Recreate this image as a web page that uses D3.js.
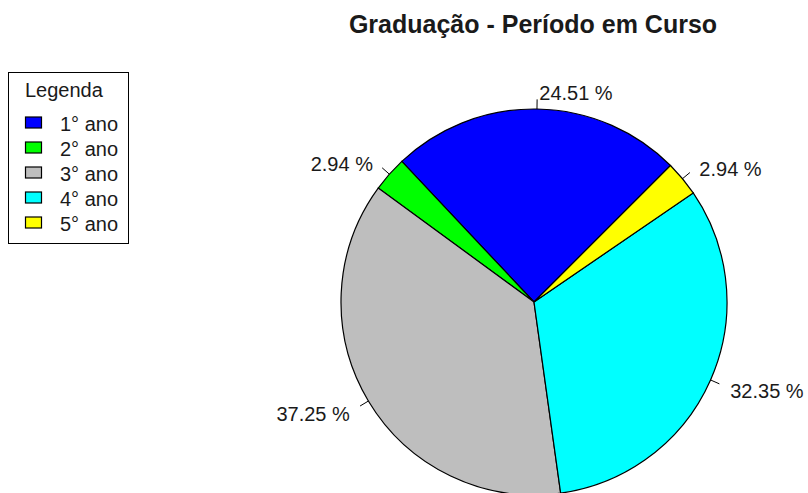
<!DOCTYPE html>
<html>
<head>
<meta charset="utf-8">
<script src="https://cdn.jsdelivr.net/npm/d3@7"></script>
<style>
  body { margin: 0; background: #fff; }
  text { font-family: "Liberation Sans", Arial, sans-serif; fill: #1a1a1a; }
</style>
</head>
<body>
<div id="chart"></div>
<script>
// chart data
var categories = ["1° ano", "2° ano", "3° ano", "4° ano", "5° ano"]
var counts = [25, 3, 38, 33, 3]
var colors = ["#0000FF", "#00FF00", "#BEBEBE", "#00FFFF", "#FFFF00"]
var title = "Graduação - Período em Curso"
var legendTitle = "Legenda"

var width = 808, height = 493
var cx = 534, cy = 302, r = 193
var total = d3.sum(counts)

var svg = d3.select("#chart").append("svg").attr("width", width).attr("height", height)

svg.append("text").attr("x", 533).attr("y", 33)
    .attr("text-anchor", "middle").style("font-size", "25px").style("font-weight", "bold")
    .text(title)

// R pie: counter-clockwise from init.angle = 45 deg
var pie = d3.pie().sort(null).value(function(d){ return d.v })
    .startAngle(Math.PI / 4).endAngle(Math.PI / 4 - 2 * Math.PI)
var arcs = pie(categories.map(function(c, i){ return {c: c, v: counts[i], col: colors[i]} }))
var arc = d3.arc().innerRadius(0).outerRadius(r)

var g = svg.append("g").attr("transform", `translate(${cx},${cy})`)
g.selectAll("path.slice").data(arcs).enter().append("path")
    .attr("class", "slice")
    .attr("d", arc)
    .attr("fill", function(d){ return d.data.col })
    .attr("stroke", "#000").attr("stroke-width", 1.2)

arcs.forEach(function(d){
    var a = (d.startAngle + d.endAngle) / 2
    var sx = Math.sin(a), sy = -Math.cos(a)
    g.append("line")
        .attr("x1", r * sx).attr("y1", r * sy)
        .attr("x2", 1.05 * r * sx).attr("y2", 1.05 * r * sy)
        .attr("stroke", "#000").attr("stroke-width", 1)
    g.append("text")
        .attr("x", 1.1 * r * sx + (sx < 0 ? -2 : 2)).attr("y", 1.1 * r * sy + 3)
        .attr("dominant-baseline", "central")
        .attr("text-anchor", sx < 0 ? "end" : "start")
        .style("font-size", "20px")
        .text((d.data.v / total * 100).toFixed(2) + " %")
})

// legend
var lg = svg.append("g")
lg.append("rect").attr("x", 8.5).attr("y", 72.5).attr("width", 120).attr("height", 171)
    .attr("fill", "#fff").attr("stroke", "#000").attr("stroke-width", 1)
lg.append("text").attr("x", 25).attr("y", 90).attr("dominant-baseline", "central")
    .style("font-size", "20px").text(legendTitle)
var ly = d3.scaleBand().domain(categories).range([110, 235])
categories.forEach(function(c, i){
    var y = ly(c) + ly.bandwidth() / 2
    lg.append("rect").attr("x", 25.5).attr("y", y - 5.5).attr("width", 16).attr("height", 11)
        .attr("fill", colors[i]).attr("stroke", "#000").attr("stroke-width", 1.2)
    lg.append("text").attr("x", 60).attr("y", y + 1).attr("dominant-baseline", "central")
        .style("font-size", "20px").text(c)
})
</script>
</body>
</html>
